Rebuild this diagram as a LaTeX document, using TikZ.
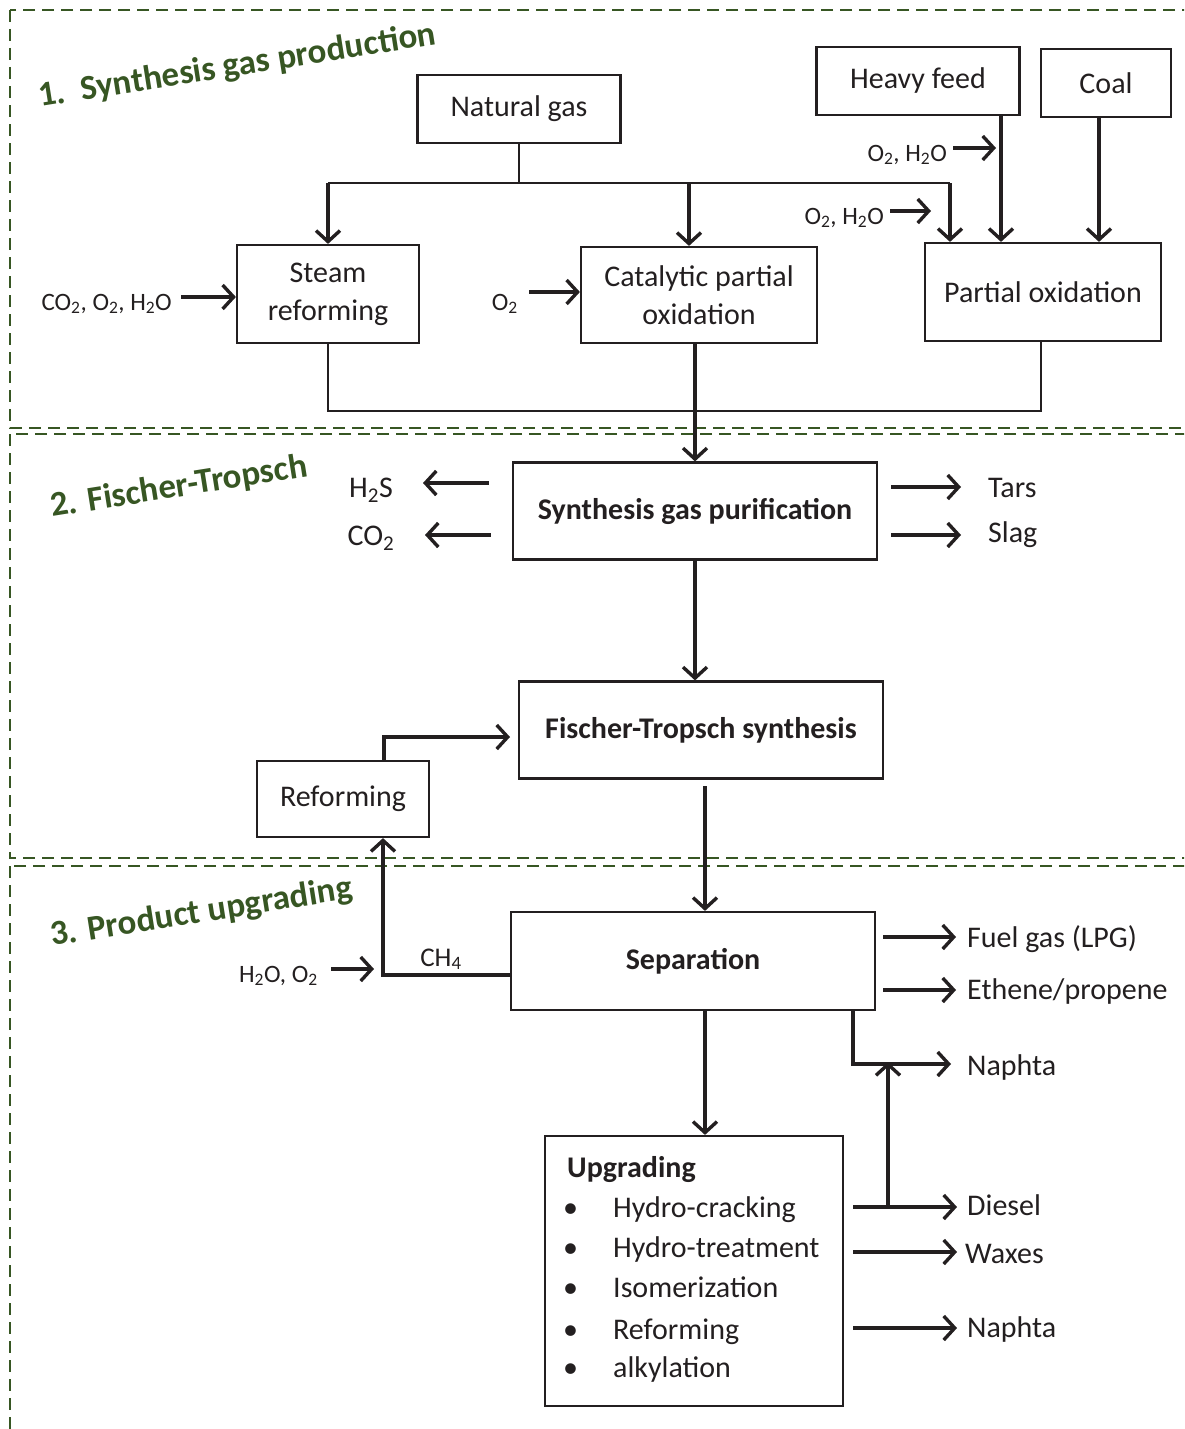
\documentclass[tikz,border=0pt]{standalone}
\usepackage{fontspec}
\setmainfont{Carlito}
\usetikzlibrary{arrows.meta}
\definecolor{frgreen}{RGB}{55,86,35}
\definecolor{ink}{RGB}{35,31,32}
\begin{document}
\begin{tikzpicture}[x=1pt,y=-1pt,
  box/.style={draw=ink, line width=2.2pt, inner sep=0pt, text=ink, align=center,
    font=\fontsize{30}{38}\selectfont},
  bbox/.style={box, font=\fontsize{30}{38}\selectfont\bfseries},
  lbl/.style={inner sep=0pt, text=ink, font=\fontsize{30}{34}\selectfont},
  slbl/.style={inner sep=0pt, text=ink, font=\fontsize{25}{28}\selectfont},
  arr/.style={draw=ink, line width=3.4pt, -{Straight Barb[length=11pt,width=24pt,line width=3.4pt]}},
  plain/.style={draw=ink, line width=2.4pt},
  frame/.style={draw=frgreen, line width=2.6pt, dash pattern=on 12pt off 7pt},
  ttl/.style={inner sep=0pt, text=frgreen, rotate=9, anchor=base west,
    font=\fontsize{35}{40}\selectfont\bfseries}
]
\useasboundingbox (0,0) rectangle (1184,1429);
\begin{scope}
  \clip (0,0) rectangle (1184,1429);
  \draw[frame] (10,10) rectangle (1210,428);
  \draw[frame] (10,434) rectangle (1210,858);
  \draw[frame] (10,866) rectangle (1210,1460);
\end{scope}

% titles
\node[ttl] (t1) at (40,107) {1.\ \ Synthesis gas production};
\node[ttl] (t2) at (52,517) {2. Fischer-Tropsch};
\node[ttl] (t3) at (52,946) {3. Product upgrading};

% boxes
\node[box, minimum width=203pt, minimum height=68pt] (ng) at (519,109) {Natural gas};
\node[box, minimum width=203pt, minimum height=68pt] (hf) at (918,81) {Heavy feed};
\node[box, minimum width=130pt, minimum height=68pt] (coal) at (1106,83) {Coal};
\node[box, minimum width=182pt, minimum height=98pt] (sr) at (328,294) {Steam\\reforming};
\node[box, minimum width=236pt, minimum height=96pt] (cpo) at (699,295) {Catalytic partial\\oxidation};
\node[box, minimum width=236pt, minimum height=98pt] (po) at (1043,292) {Partial oxidation};
\node[bbox, minimum width=364pt, minimum height=97pt] (pur) at (695,511) {Synthesis gas purification};
\node[bbox, minimum width=364pt, minimum height=97pt] (fts) at (701,730) {Fischer-Tropsch synthesis};
\node[box, minimum width=172pt, minimum height=76pt] (ref) at (343,799) {Reforming};
\node[bbox, minimum width=364pt, minimum height=98pt] (sep) at (693,961) {Separation};
\node[box, minimum width=298pt, minimum height=270pt] (up) at (694,1271) {};

% upgrading contents
\node[lbl, anchor=base west, font=\fontsize{30}{34}\selectfont\bfseries] (uph) at (567,1177) {Upgrading};
\foreach \y/\t [count=\i] in {1217/Hydro-cracking,1257/Hydro-treatment,1297/Isomerization,1339/Reforming,1377/alkylation}{
  \node[lbl, anchor=base west] (b\i) at (563,\y) {\textbullet};
  \node[lbl, anchor=base west] (u\i) at (613,\y) {\t};
}

% synthesis gas production
\coordinate (jl) at (328,183);
\coordinate (jc) at (689,183);
\coordinate (jr) at (950,183);
\draw[plain] (ng.south) -- (ng.south |- jl);
\draw[plain] (jl) -- (jr);
\draw[arr] (jl) -- (sr.north);
\draw[arr] (jc) -- (jc |- cpo.north);
\draw[arr] (jr) -- (jr |- po.north);
\coordinate (hfx) at (1001,0);
\coordinate (cx) at (1099,0);
\draw[arr] (hf.south -| hfx) -- (hfx |- po.north);
\draw[arr] (coal.south -| cx) -- (cx |- po.north);

\node[slbl, anchor=base east] (o1) at (947,161) {O\textsubscript{2}, H\textsubscript{2}O};
\coordinate (o1e) at (996,148);
\draw[arr] (953,148) -- (o1e);
\node[slbl, anchor=base east] (o2) at (884,224) {O\textsubscript{2}, H\textsubscript{2}O};
\coordinate (o2e) at (931,211);
\draw[arr] (890,211) -- (o2e);
\node[slbl, anchor=base east] (o3) at (172,310) {CO\textsubscript{2}, O\textsubscript{2}, H\textsubscript{2}O};
\draw[arr] (181,297) -- (sr.west |- 0,297);
\node[slbl, anchor=base east] (o4) at (518,310) {O\textsubscript{2}};
\draw[arr] (529,292) -- (cpo.west |- 0,292);

\coordinate (cl) at (1041,411);
\draw[plain] (sr.south) -- (sr.south |- cl) -- (cl) -- (cl |- po.south);
\draw[arr] (pur.north |- cpo.south) -- (pur.north);

% purification side streams
\node[lbl, anchor=base] (h2s) at (371,497) {H\textsubscript{2}S};
\node[lbl, anchor=base] (co2) at (371,545) {CO\textsubscript{2}};
\coordinate (h2se) at (423,483);
\coordinate (co2e) at (425,535);
\draw[arr] (pur.west |- 0,483) ++(-23,0) -- (h2se);
\draw[arr] (pur.west |- 0,535) ++(-21,0) -- (co2e);
\node[lbl, anchor=base west] (tars) at (988,497) {Tars};
\node[lbl, anchor=base west] (slag) at (988,542) {Slag};
\coordinate (tarse) at (961,487);
\coordinate (slage) at (961,535);
\draw[arr] (pur.east |- 0,487) ++(13,0) -- (tarse);
\draw[arr] (pur.east |- 0,535) ++(13,0) -- (slage);

\draw[arr] (pur.south) -- (pur.south |- fts.north);

% FT loop
\coordinate (rx) at (384,737);
\draw[arr] (ref.north -| rx) -- (rx) -- (510,737);
\coordinate (fx) at (705,0);
\draw[arr] (705,786) -- (sep.north -| fx);

% separation
\coordinate (sx) at (383,975);
\draw[arr] (sep.west |- sx) -- (sx) -- (ref.south -| sx);
\node[lbl, anchor=base, font=\fontsize{27}{30}\selectfont] (ch4) at (441,966) {CH\textsubscript{4}};
\node[slbl, anchor=base east] (h2o) at (318,982) {H\textsubscript{2}O, O\textsubscript{2}};
\draw[arr] (331,969) -- (374,969);

\node[lbl, anchor=base west] (fg) at (967,947) {Fuel gas (LPG)};
\node[lbl, anchor=base west] (eth) at (967,999) {Ethene/propene};
\node[lbl, anchor=base west] (nap1) at (967,1075) {Naphta};
\draw[arr] (883,937) -- (956,937);
\draw[arr] (883,990) -- (956,990);
\coordinate (nx) at (853,1064);
\draw[arr] (sep.south -| nx) -- (nx) -- (951,1064);

\draw[arr] (sep.south -| fx) -- (up.north -| fx);

% upgrading outputs
\node[lbl, anchor=base west] (dies) at (967,1215) {Diesel};
\node[lbl, anchor=base west] (wax) at (965,1263) {Waxes};
\node[lbl, anchor=base west] (nap2) at (967,1337) {Naphta};
\draw[arr] (853,1207) -- (957,1207);
\draw[arr] (853,1252) -- (957,1252);
\draw[arr] (853,1328) -- (957,1328);
\coordinate (dx) at (888,1207);
\draw[arr] (dx) -- (888,1062);
\end{tikzpicture}
\end{document}
